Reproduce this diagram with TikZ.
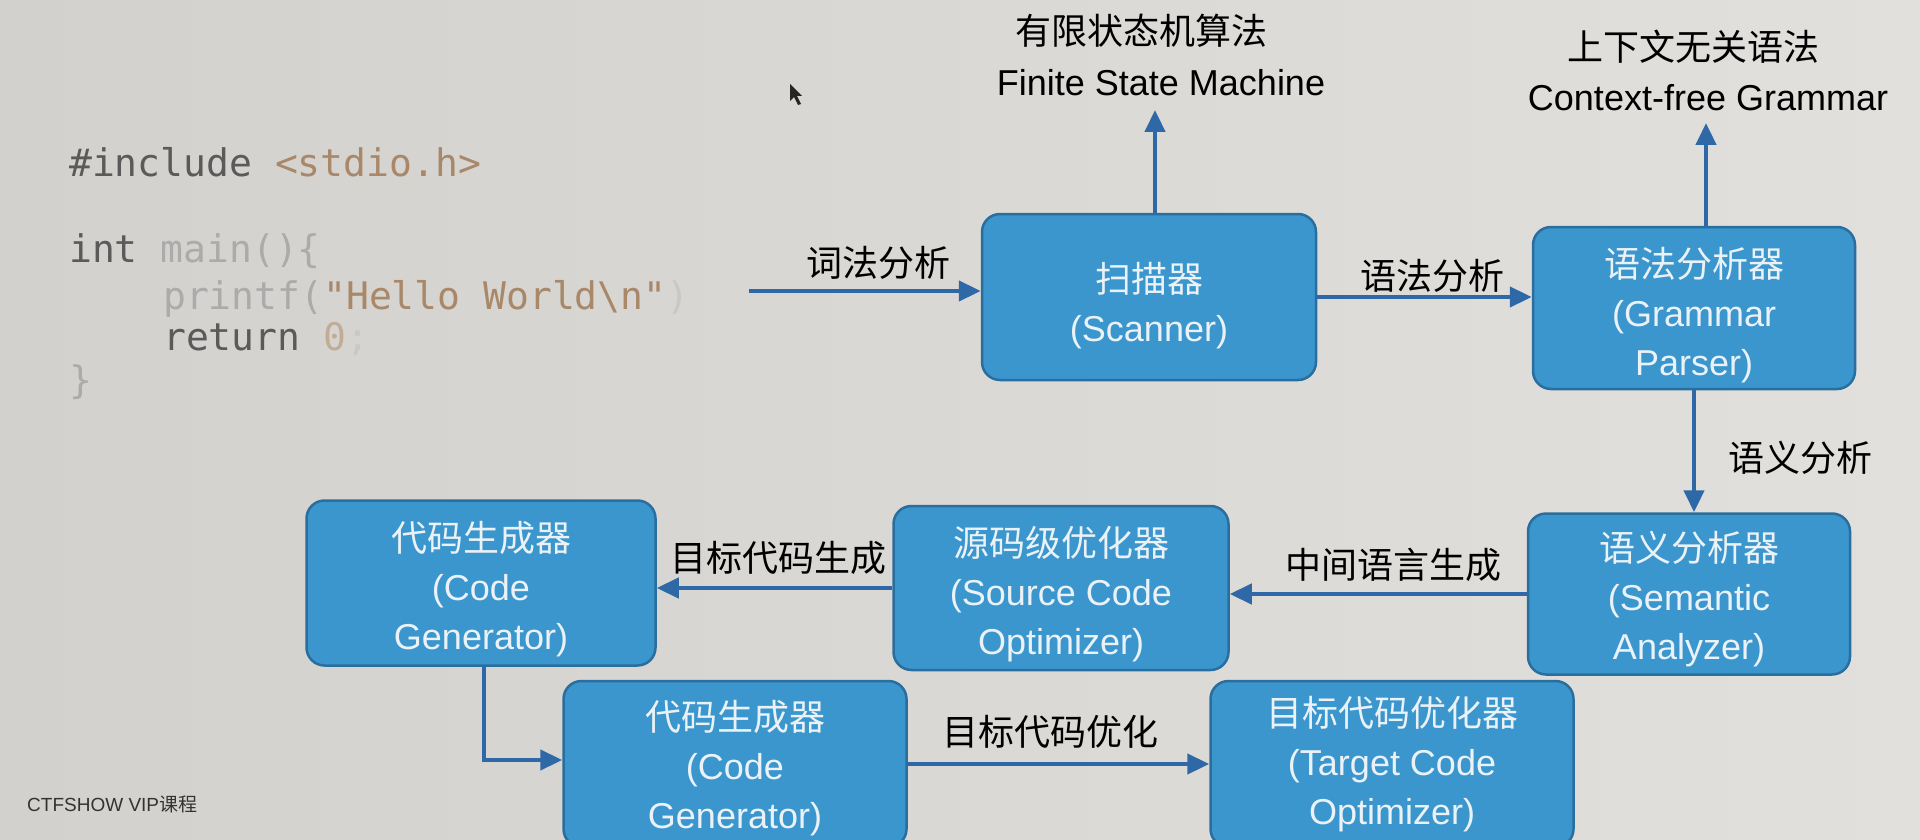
\documentclass[tikz,border=0pt]{standalone}
\usepackage{fontspec}
\setmainfont{Liberation Sans}
\newfontfamily\cjk{Noto Sans CJK SC}
\newfontfamily\codefont{DejaVu Sans Mono}
\usetikzlibrary{arrows.meta}
\definecolor{boxfill}{HTML}{3A96CD}
\definecolor{boxedge}{HTML}{2A6E9E}
\definecolor{arrowc}{HTML}{2F68A6}
\definecolor{boxtext}{HTML}{EAF2F7}
\definecolor{bgleft}{HTML}{D3D1CE}
\definecolor{bgright}{HTML}{E2E0DD}
\definecolor{codedark}{HTML}{5A5A5A}
\definecolor{codetan}{HTML}{A88868}
\definecolor{codelight}{HTML}{ABABAB}
\definecolor{codefaint}{HTML}{C8C8C8}
\begin{document}
\begin{tikzpicture}[x=1pt,y=-1pt,
  stagebox/.style={draw=boxedge, line width=2.5pt, fill=boxfill, rounded corners=18pt, inner sep=0pt},
  boxtxt/.style={text=boxtext, align=center, inner sep=0pt, font=\fontsize{36}{49}\selectfont},
  flow/.style={draw=arrowc, line width=4.5pt, -{Triangle[length=22pt,width=20pt]}},
  lbl/.style={font=\fontsize{36}{44}\selectfont\cjk, text=black, inner sep=0pt},
  toplbl/.style={font=\fontsize{36}{44}\selectfont, text=black, inner sep=0pt},
  code/.style={font=\codefont\fontsize{38}{44}\selectfont, inner sep=0pt, anchor=base west},
]
\useasboundingbox (0,0) rectangle (1920,840);
\clip (0,0) rectangle (1920,840);
\shade[left color=bgleft, right color=bgright] (0,0) rectangle (1920,840);

% code
\node[code] (c1) at (69,176) {\color{codedark}\#include \color{codetan}<stdio.h>};
\node[code] (c2) at (69,262) {\color{codedark}int \color{codelight}main()\{};
\node[code] (c3) at (163,309) {\color{codelight}printf(\color{codetan}"Hello World\textbackslash n"\color{codefaint})};
\node[code] (c4) at (163,350) {\color{codedark}return \color{codetan!70}0\color{codefaint};};
\node[code] (c5) at (69,393) {\color{codelight}\}};

% cursor
\fill[black!85] (790,84) -- (790,101) -- (794,97) -- (798,105) -- (801,104) -- (797,96) -- (802,96) -- cycle;

% boxes
\node[stagebox, minimum width=334pt, minimum height=166pt] (scan) at (1149,297) {};
\node[stagebox, minimum width=322pt, minimum height=162pt] (parse) at (1694,308) {};
\node[stagebox, minimum width=322pt, minimum height=161pt] (sem) at (1689,594) {};
\node[stagebox, minimum width=335pt, minimum height=164pt] (src) at (1061,588) {};
\node[stagebox, minimum width=349pt, minimum height=165pt] (gen1) at (481,583) {};
\node[stagebox, minimum width=343pt, minimum height=166pt] (gen2) at (735,764) {};
\node[stagebox, minimum width=363pt, minimum height=166pt] (tgt) at (1392,764) {};

\node[boxtxt] (scant) at ([yshift=-9pt]scan.center) {{\cjk 扫描器}\\(Scanner)};
\node[boxtxt] (parset) at ([yshift=-7pt]parse.center) {{\cjk 语法分析器}\\(Grammar\\Parser)};
\node[boxtxt] (semt) at ([yshift=-5pt]sem.center) {{\cjk 语义分析器}\\(Semantic\\Analyzer)};
\node[boxtxt] (srct) at ([yshift=-6pt]src.center) {{\cjk 源码级优化器}\\(Source Code\\Optimizer)};
\node[boxtxt] (gen1t) at ([yshift=-6pt]gen1.center) {{\cjk 代码生成器}\\(Code\\Generator)};
\node[boxtxt] (gen2t) at ([yshift=-4pt]gen2.center) {{\cjk 代码生成器}\\(Code\\Generator)};
\node[boxtxt] (tgtt) at (tgt.center) {{\cjk 目标代码优化器}\\(Target Code\\Optimizer)};

% top labels
\node[toplbl] (fsmcn) at (1141,31) {\cjk 有限状态机算法};
\node[toplbl] (fsmen) at (1161,83) {Finite State Machine};
\node[toplbl] (cfgcn) at (1693,47) {\cjk 上下文无关语法};
\node[toplbl] (cfgen) at (1708,98) {Context-free Grammar};

% edge labels
\node[lbl] (l1) at (878,263) {词法分析};
\node[lbl] (l2) at (1432,276) {语法分析};
\node[lbl] (l3) at (1800,458) {语义分析};
\node[lbl] (l4) at (1393,565) {中间语言生成};
\node[lbl] (l5) at (778,558) {目标代码生成};
\node[lbl] (l6) at (1050,732) {目标代码优化};

% arrows
\coordinate (lexin) at (749,291);
\draw[flow] (lexin) -- (lexin -| scan.west);
\coordinate (fsmtip) at (1155,110);
\draw[flow] (fsmtip |- scan.north) -- (fsmtip);
\coordinate (cfgtip) at (1706,123);
\draw[flow] (cfgtip |- parse.north) -- (cfgtip);
\draw[flow] (scan.east) -- (scan.east -| parse.west);
\draw[flow] (parse.south) -- (parse.south |- sem.north);
\draw[flow] (sem.west) -- (sem.west -| src.east);
\draw[flow] (src.west) -- (src.west -| gen1.east);
\coordinate (bend) at (484,760);
\draw[flow] (bend |- gen1.south) -- (bend) -- (bend -| gen2.west);
\draw[flow] (gen2.east) -- (gen2.east -| tgt.west);

% watermark
\node[anchor=west, font=\fontsize{19}{22}\selectfont, text=black!80, inner sep=0pt] (wm) at (27,804) {CTFSHOW VIP{\cjk 课程}};
\end{tikzpicture}
\end{document}
